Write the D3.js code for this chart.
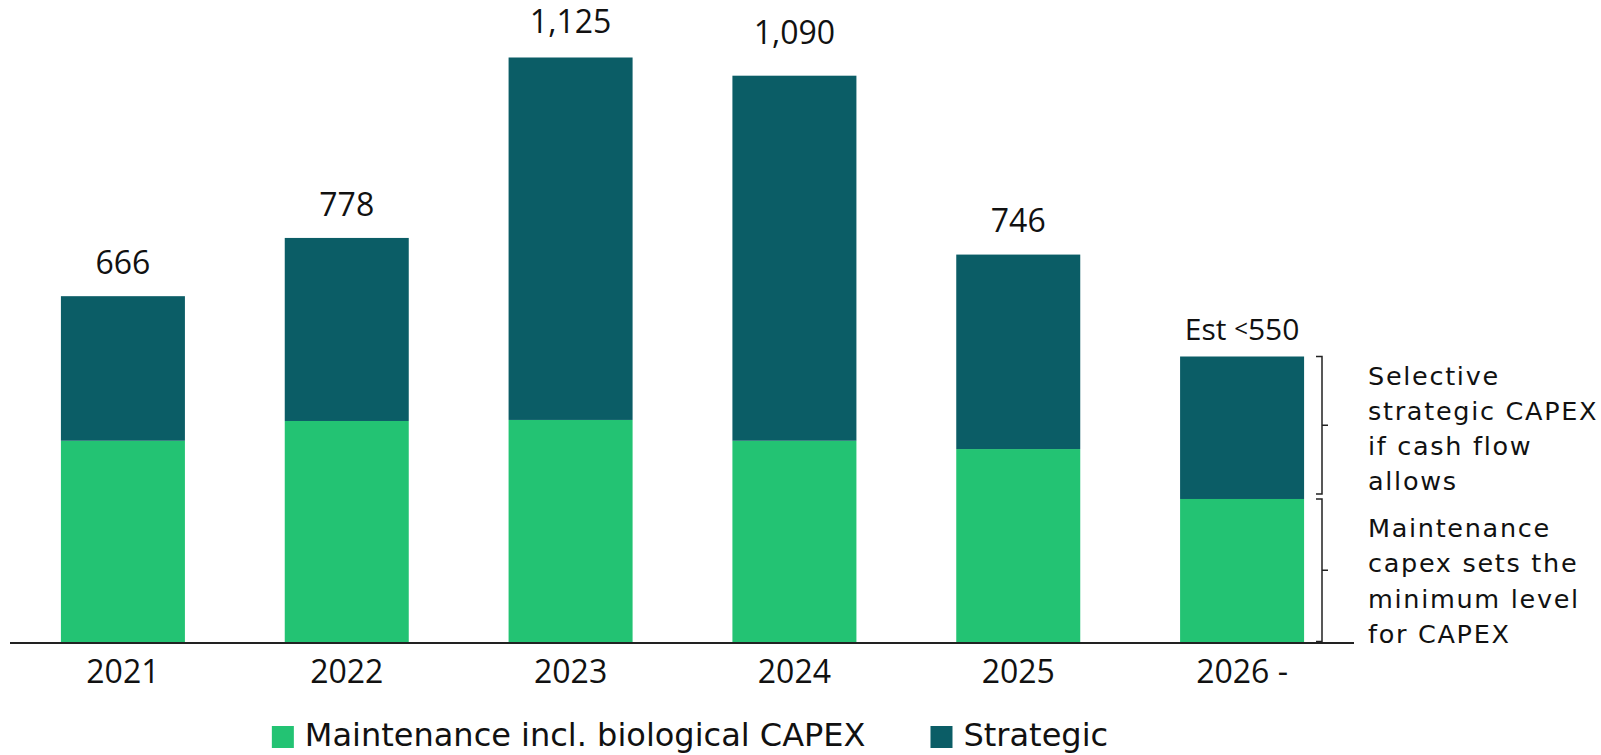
<!DOCTYPE html>
<html>
<head>
<meta charset="utf-8">
<script src="https://cdn.jsdelivr.net/npm/d3@7"></script>
<style>
  html, body { margin: 0; padding: 0; background: #ffffff; }
  svg { display: block; }
</style>
</head>
<body>
<svg id="chart" width="1601" height="755"></svg>
<script>
// CAPEX by year, split into maintenance and strategic parts
const years = ["2021", "2022", "2023", "2024", "2025", "2026 -"];
const maintenance = [388, 426, 428, 388, 372, 276];
const strategic = [278, 352, 697, 702, 374, 274];
const totalLabels = ["666", "778", "1,125", "1,090", "746", "Est <550"];
const seriesNames = ["Maintenance incl. biological CAPEX", "Strategic"];
const seriesColors = ["#23c373", "#0b5d66"];
const noteUpper = ["Selective", "strategic CAPEX", "if cash flow", "allows"];
const noteLower = ["Maintenance", "capex sets the", "minimum level", "for CAPEX"];
// extra lift of each total label above its bar
const labelGap = [22, 22, 25, 32, 23, 17];

const svg = d3.select("#chart");
const numFont = "'Open Sans', Lato, sans-serif";
const wordFont = "'DejaVu Sans', 'Open Sans', sans-serif";
const ink = "#111111";

const baseY = 642.5;
const x = d3.scaleBand()
  .domain(years)
  .range([11, 1354])
  .paddingInner(0.446)
  .paddingOuter(0.223);

const y = d3.scaleLinear()
  .domain([0, 1200])
  .range([baseY, baseY - 1200 * 0.52]);

const rows = years.map((yr, i) => ({
  year: yr,
  maintenance: maintenance[i],
  strategic: strategic[i],
  label: totalLabels[i],
  gap: labelGap[i]
}));

const stack = d3.stack().keys(["maintenance", "strategic"]);
const layers = stack(rows);

svg.append("g")
  .selectAll("g")
  .data(layers)
  .join("g")
  .attr("fill", (d, i) => seriesColors[i])
  .selectAll("rect")
  .data(d => d)
  .join("rect")
  .attr("x", d => x(d.data.year))
  .attr("width", x.bandwidth())
  .attr("y", d => y(d[1]))
  .attr("height", d => y(d[0]) - y(d[1]));

// baseline axis with year labels
const axis = svg.append("g")
  .attr("transform", `translate(0,${baseY + 0.5})`)
  .call(d3.axisBottom(x).tickSize(0).tickPadding(40));
axis.select(".domain").attr("stroke", "#222").attr("stroke-width", 2).attr("d", "M10,0H1354");
axis.selectAll(".tick text")
  .style("font-family", numFont)
  .style("font-size", "32px")
  .attr("fill", ink)
  .attr("dy", 0)
  .attr("y", 40);

// totals above the bars
const totals = svg.append("g");
rows.forEach(r => {
  const t = totals.append("text")
    .attr("x", x(r.year) + x.bandwidth() / 2)
    .attr("y", y(r.maintenance + r.strategic) - r.gap)
    .attr("text-anchor", "middle")
    .attr("fill", ink)
    .style("font-family", numFont)
    .style("font-size", r.label.startsWith("Est") ? "30px" : "32px");
  if (r.label.includes("<")) {
    const [a, b] = r.label.split("<");
    t.append("tspan").text(a);
    t.append("tspan").style("font-size", "24px").attr("dy", -3).text("<");
    t.append("tspan").attr("dy", 3).text(b);
  } else {
    t.text(r.label);
  }
});

// brackets and notes beside the last bar
const last = rows[rows.length - 1];
const bx = 1322;
const topY = y(last.maintenance + last.strategic);
const midY = y(last.maintenance);
function bracket(y0, y1) {
  const m = (y0 + y1) / 2;
  svg.append("path")
    .attr("d", `M${bx - 6},${y0}H${bx}V${y1}H${bx - 6}M${bx},${m}H${bx + 6}`)
    .attr("fill", "none")
    .attr("stroke", "#222")
    .attr("stroke-width", 1.5);
}
bracket(topY, midY - 5);
bracket(midY, baseY - 1);

function note(lines, firstBaseline) {
  const t = svg.append("text")
    .attr("x", 1368)
    .attr("y", firstBaseline)
    .attr("fill", ink)
    .style("font-family", wordFont)
    .style("font-size", "25.5px")
    .style("letter-spacing", "1.7px");
  lines.forEach((ln, i) => {
    t.append("tspan").attr("x", 1368).attr("dy", i === 0 ? 0 : 35.3).text(ln);
  });
}
note(noteUpper, topY + 28);
note(noteLower, midY + 38);

// legend, centred under the plot
const legend = svg.append("g").attr("transform", "translate(0,746)");
const items = legend.selectAll("g")
  .data(seriesNames)
  .join("g");
items.append("rect")
  .attr("width", 22).attr("height", 22)
  .attr("y", -20)
  .attr("fill", (d, i) => seriesColors[i]);
items.append("text")
  .attr("x", 33)
  .attr("fill", ink)
  .style("font-family", wordFont)
  .style("font-size", "32px")
  .text(d => d);
let cursor = 0;
const offsets = [];
items.each(function () {
  offsets.push(cursor);
  const w = d3.select(this).select("text").node().getComputedTextLength();
  cursor += 33 + w + 65;
});
const legendWidth = cursor - 65;
const legendStart = 690 - legendWidth / 2;
items.attr("transform", (d, i) => `translate(${legendStart + offsets[i]},0)`);
</script>
</body>
</html>
